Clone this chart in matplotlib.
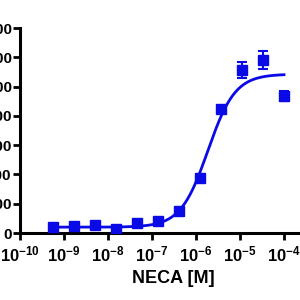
import matplotlib.pyplot as plt
import numpy as np

plt.rcParams['font.family'] = ['Liberation Sans', 'DejaVu Sans']
plt.rcParams['font.weight'] = 'bold'
plt.rcParams['mathtext.fontset'] = 'custom'
plt.rcParams['mathtext.rm'] = 'Liberation Sans:bold'
plt.rcParams['mathtext.bf'] = 'Liberation Sans:bold'

# NECA concentrations (M), 3-fold dilutions
conc = [5.6e-10, 1.7e-9, 5.1e-9, 1.5e-8, 4.6e-8, 1.37e-7,
        4.1e-7, 1.23e-6, 3.7e-6, 1.11e-5, 3.33e-5, 1.0e-4]
resp = [41, 48, 55, 27, 69, 82, 151, 378, 845, 1113, 1182, 934]
err = [8, 8, 8, 15, 8, 8, 10, 10, 10, 55, 62, 34]

# fitted sigmoid parameters
bottom = 40
top = 1085
log_ec50 = -5.73
hill = 1.4

yticks = [0, 200, 400, 600, 800, 1000, 1200, 1400]
xticks = [1e-10, 1e-9, 1e-8, 1e-7, 1e-6, 1e-5, 1e-4]
xticklabels = ['$\\mathbf{10^{-10}}$', '$\\mathbf{10^{-9}}$', '$\\mathbf{10^{-8}}$',
               '$\\mathbf{10^{-7}}$', '$\\mathbf{10^{-6}}$', '$\\mathbf{10^{-5}}$',
               '$\\mathbf{10^{-4}}$']

blue = '#0a0ae6'

fig = plt.figure(figsize=(3, 3), dpi=100)
ax = fig.add_axes([0.0667, 0.2233, 1.02, 0.6833])

xs = np.logspace(np.log10(conc[0]), np.log10(conc[-1]), 300)
ys = bottom + (top - bottom) / (1 + 10 ** ((log_ec50 - np.log10(xs)) * hill))
ax.plot(xs, ys, color=blue, lw=2.0, zorder=2)

ax.errorbar(conc, resp, yerr=err, fmt='s', color=blue, ms=6.5,
            elinewidth=1.5, capsize=3.5, capthick=1.5, zorder=3)

ax.set_xscale('log')
ax.set_xlim(1e-10, 10 ** -3.045)
ax.set_ylim(0, 1400)
ax.set_xticks(xticks)
ax.set_xticklabels(xticklabels)
ax.set_yticks(yticks)
ax.tick_params(axis='both', which='major', direction='out', length=5, width=2,
               labelsize=11)
ax.tick_params(axis='x', which='minor', direction='out', length=3, width=1.5)
ax.tick_params(axis='x', which='major', pad=3, labelsize=12)
ax.tick_params(axis='y', pad=1)

for s in ['top', 'right']:
    ax.spines[s].set_visible(False)
for s in ['left', 'bottom']:
    ax.spines[s].set_linewidth(2.2)

ax.set_xlabel('NECA [M]', fontsize=13, fontweight='bold', labelpad=4)

plt.savefig('out.png', dpi=100)
